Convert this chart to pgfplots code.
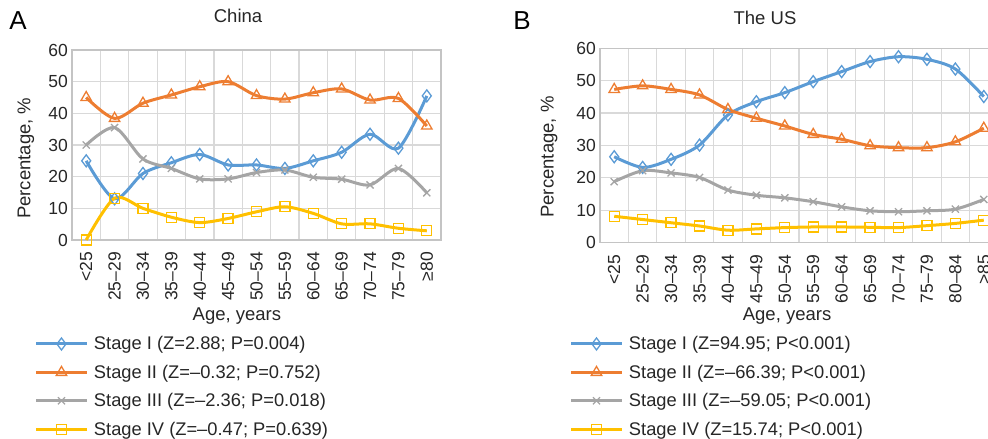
\documentclass[border=0pt]{standalone}
\usepackage{fontspec}
\setmainfont{Liberation Sans}
\usepackage{pgfplots}
\usepackage{pgfplotstable}
\pgfplotsset{compat=1.18}
\definecolor{cI}{HTML}{5B9BD5}
\definecolor{cII}{HTML}{ED7D31}
\definecolor{cIII}{HTML}{A5A5A5}
\definecolor{cIV}{HTML}{FFC000}
\definecolor{gridc}{HTML}{D9D9D9}
\definecolor{axc}{HTML}{C4C4C4}
\definecolor{txt}{HTML}{262626}

\pgfplotstableread{
x I II III IV
0 25.0 45.0 30.0 0.0
1 13.0 38.4 35.5 13.2
2 21.0 43.2 25.6 10.0
3 24.4 45.8 22.6 7.2
4 27.0 48.4 19.3 5.5
5 23.7 50.0 19.3 6.8
6 23.7 45.6 21.3 8.9
7 22.6 44.5 22.1 10.5
8 25.0 46.5 19.8 8.4
9 27.7 47.7 19.2 5.1
10 33.4 44.2 17.4 5.1
11 29.0 44.7 22.6 3.7
12 45.5 36.0 14.9 2.9
}\china

\pgfplotstableread{
x I II III IV
0 26.5 47.3 18.8 8.1
1 23.2 48.4 22.2 7.1
2 25.7 47.3 21.5 6.1
3 30.1 45.6 20.1 5.1
4 39.4 41.1 16.2 3.8
5 43.5 38.4 14.6 4.2
6 46.3 36.0 13.8 4.6
7 49.7 33.4 12.6 4.8
8 52.8 31.9 11.0 4.8
9 55.9 29.9 9.8 4.7
10 57.4 29.3 9.5 4.6
11 56.6 29.3 9.8 5.2
12 53.6 31.1 10.3 5.9
13 45.1 35.3 13.3 6.9
}\us

\pgfplotsset{
  panel/.style={
    scale only axis,
    anchor=south west,
    ymin=0, ymax=60, ytick={0,10,...,60},
    major tick length=0pt, minor tick length=0pt,
    ymajorgrids, xminorgrids, xmajorgrids=false,
    grid style={gridc, line width=1.2pt},
    minor grid style={gridc, line width=1.2pt},
    axis line style={axc, line width=1.6pt},
    tick label style={font=\fontsize{17.5}{20}\selectfont, text=txt},
    /pgf/number format/assume math mode=true,
    yticklabel style={inner sep=0pt}, yticklabel shift=4pt,
    xticklabel style={rotate=90, anchor=east, inner sep=0pt}, xticklabel shift=12pt,
    label style={font=\fontsize{18.5}{20}\selectfont, text=txt},
    title style={font=\fontsize{18.5}{20}\selectfont, text=txt, anchor=center},
    legend cell align=left,
    legend style={anchor=north west, draw=none, fill=none, inner sep=0pt, outer sep=0pt,
      font=\fontsize{18.3}{20}\selectfont, text=txt,
      nodes={inner sep=0pt, minimum height=28.4pt},
      row sep=0pt, column sep=6pt},
    legend image code/.code={\draw[mark repeat=2,mark phase=2,#1] plot coordinates {(0pt,0pt) (25pt,0pt) (50pt,0pt)};},
    clip=false,
  },
  sI/.style={color=cI, line width=3pt, smooth, tension=0.5, mark=diamond, mark size=6pt, mark options={fill=white, line width=1.3pt}},
  sII/.style={color=cII, line width=3pt, smooth, tension=0.5, mark=triangle, mark size=6pt, mark options={fill=white, line width=1.3pt}},
  sIII/.style={color=cIII, line width=3pt, smooth, tension=0.5, mark=x, mark size=5pt, mark options={line width=1.3pt}},
  sIV/.style={color=cIV, line width=3pt, smooth, tension=0.5, mark=square, mark size=5pt, mark options={fill=white, line width=1.3pt}},
}

\begin{document}
\begin{tikzpicture}
\begin{axis}[panel,
  at={(72pt,199pt)}, width=369pt, height=190pt,
  xmin=-0.5, xmax=12.5,
  xtick={0,...,12}, minor xtick={-0.5,0.5,...,12.5},
  xticklabels={<25,25–29,30–34,35–39,40–44,45–49,50–54,55–59,60–64,65–69,70–74,75–79,≥80},
  title={China}, title style={at={(axis description cs:0.45,1)}, yshift=28pt},
  xlabel={Age, years}, xlabel style={at={(axis description cs:0.447,0)}, yshift=-76pt, anchor=center},
  ylabel={Percentage, \%}, ylabel style={at={(axis description cs:-0.125,0.43)}, anchor=center},
  legend style={at={(axis description cs:-0.1003,-0.4726)}},
]
\addplot[sI] table[x=x,y=I]{\china};
\addlegendentry{Stage I (Z=2.88; P=0.004)}
\addplot[sII] table[x=x,y=II]{\china};
\addlegendentry{Stage II (Z=–0.32; P=0.752)}
\addplot[sIII] table[x=x,y=III]{\china};
\addlegendentry{Stage III (Z=–2.36; P=0.018)}
\addplot[sIV] table[x=x,y=IV]{\china};
\addlegendentry{Stage IV (Z=–0.47; P=0.639)}
\end{axis}

\begin{axis}[panel,
  at={(600pt,196.5pt)}, width=398pt, height=194.2pt,
  xmin=-0.5, xmax=13.5,
  xtick={0,...,13}, minor xtick={-0.5,0.5,...,13.5},
  xticklabels={<25,25–29,30–34,35–39,40–44,45–49,50–54,55–59,60–64,65–69,70–74,75–79,80–84,>85},
  title={The US}, title style={at={(axis description cs:0.4146,1)}, yshift=24pt},
  xlabel={Age, years}, xlabel style={at={(axis description cs:0.47,0)}, yshift=-73.5pt, anchor=center},
  ylabel={Percentage, \%}, ylabel style={at={(axis description cs:-0.128,0.44)}, anchor=center},
  legend style={at={(axis description cs:-0.0754,-0.4495)}},
]
\addplot[sI] table[x=x,y=I]{\us};
\addlegendentry{Stage I (Z=94.95; P<0.001)}
\addplot[sII] table[x=x,y=II]{\us};
\addlegendentry{Stage II (Z=–66.39; P<0.001)}
\addplot[sIII] table[x=x,y=III]{\us};
\addlegendentry{Stage III (Z=–59.05; P<0.001)}
\addplot[sIV] table[x=x,y=IV]{\us};
\addlegendentry{Stage IV (Z=15.74; P<0.001)}
\end{axis}

\node[font=\fontsize{26}{28}\selectfont, anchor=center] at (18pt,418pt) {A};
\node[font=\fontsize{26}{28}\selectfont, anchor=center] at (522pt,418pt) {B};

\pgfresetboundingbox
\path[use as bounding box] (0pt,0pt) rectangle (988pt,439pt);
\end{tikzpicture}
\end{document}
